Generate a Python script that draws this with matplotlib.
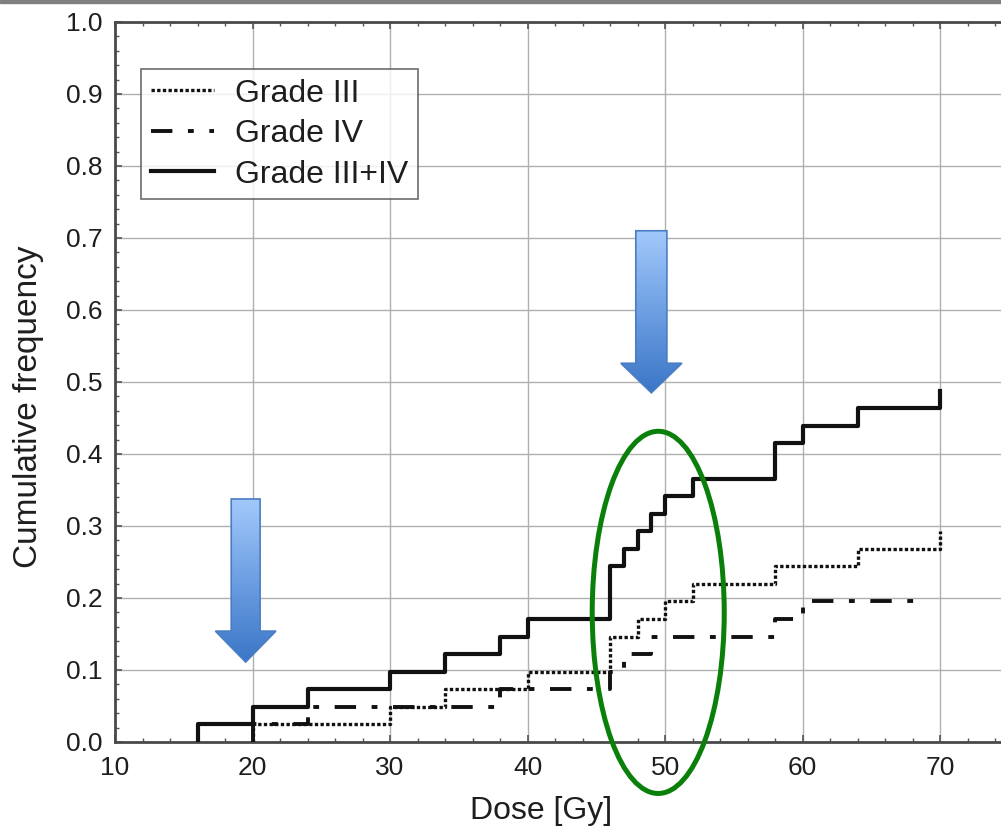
import numpy as np
import matplotlib
matplotlib.use('Agg')
import matplotlib.pyplot as plt
from matplotlib.patches import Polygon, Ellipse, Rectangle
from matplotlib.colors import LinearSegmentedColormap
from matplotlib.ticker import MultipleLocator

plt.rcParams['font.family'] = ['Liberation Sans', 'DejaVu Sans']

n_patients = 41

# step positions (Gy) and cumulative counts
all_dose = [16, 20, 24, 30, 34, 38, 40, 46, 47, 48, 49, 50, 52, 58, 60, 64, 70]
all_count = [1, 2, 3, 4, 5, 6, 7, 10, 11, 12, 13, 14, 15, 17, 18, 19, 20]

g3_dose = [20, 30, 34, 40, 46, 48, 50, 52, 58, 64, 70]
g3_count = [1, 2, 3, 4, 6, 7, 8, 9, 10, 11, 12]

g4_dose = [20, 24, 38, 46, 47, 49, 58, 60]
g4_count = [1, 2, 3, 4, 5, 6, 7, 8]
g4_end = 69


def step_xy(dose, count, end=None):
    x = [dose[0]] + list(dose)
    y = [0] + [c / n_patients for c in count]
    if end is not None:
        x.append(end)
        y.append(y[-1])
    return x, y


fig = plt.figure(figsize=(10.01, 8.32), dpi=100)
ax = fig.add_axes([0.1149, 0.1082, 0.893, 0.8654])

x, y = step_xy(g3_dose, g3_count)
ax.step(x, y, where='post', color='#111111', lw=2.4, dashes=(1.0, 0.7),
        label='Grade III', zorder=3)
x, y = step_xy(g4_dose, g4_count, g4_end)
ax.step(x, y, where='post', color='#111111', lw=2.8, dashes=(5.5, 4, 1.5, 4),
        label='Grade IV', zorder=3)
x, y = step_xy(all_dose, all_count)
ax.step(x, y, where='post', color='#111111', lw=3.0,
        label='Grade III+IV', zorder=4)

ax.set_xlim(10, 75)
ax.set_ylim(0, 1.0)
ax.xaxis.set_major_locator(MultipleLocator(10))
ax.xaxis.set_minor_locator(MultipleLocator(2))
ax.yaxis.set_minor_locator(MultipleLocator(0.02))
ax.set_yticks(np.round(np.arange(0, 1.01, 0.1), 1))
ax.set_yticklabels([f'{v:.1f}' for v in np.arange(0, 1.01, 0.1)])
ax.grid(True, which='major', color='#b0b0b0', lw=1.0)
ax.set_axisbelow(True)
ax.tick_params(which='both', direction='in', top=True, right=False,
               color='#555555', labelsize=19, labelcolor='#1e1e1e')
ax.tick_params(which='major', length=5, width=1.2)
ax.tick_params(which='minor', length=3, width=1.0)
ax.tick_params(axis='x', pad=10)
ax.tick_params(axis='y', pad=9)
for s in ['top', 'bottom', 'left']:
    ax.spines[s].set_linewidth(2.0)
    ax.spines[s].set_color('#4a4a4a')
ax.spines['right'].set_visible(False)

ax.set_xlabel('Dose [Gy]', fontsize=23, color='#1e1e1e')
ax.set_ylabel('Cumulative frequency', fontsize=24, color='#1e1e1e')
ax.xaxis.set_label_coords(0.4765, -0.075)
ax.yaxis.set_label_coords(-0.08, 0.465)

leg = ax.legend(loc='upper left', bbox_to_anchor=(141 / 1001, 1 - 69 / 832),
                bbox_transform=fig.transFigure, fontsize=23, frameon=True,
                fancybox=False, handlelength=2.0, handletextpad=0.65,
                borderpad=0.3, labelspacing=0.33, borderaxespad=0)
leg.get_frame().set_edgecolor('#555555')
leg.get_frame().set_linewidth(1.3)
for t in leg.get_texts():
    t.set_color('#1e1e1e')

# blue block arrows
cmap = LinearSegmentedColormap.from_list('arr', ['#a3c9fb', '#6d9fe2', '#3b76c6'])


def block_arrow(cx, top, base, tip, shaft_hw, head_hw):
    verts = [(cx - shaft_hw, top), (cx + shaft_hw, top), (cx + shaft_hw, base),
             (cx + head_hw, base), (cx, tip), (cx - head_hw, base),
             (cx - shaft_hw, base)]
    poly = Polygon(verts, closed=True, facecolor='none', edgecolor='#4a7ec4',
                   lw=1.2, zorder=7)
    ax.add_patch(poly)
    grad = np.linspace(0, 1, 256).reshape(-1, 1)
    im = ax.imshow(grad, cmap=cmap, extent=[cx - head_hw, cx + head_hw, tip, top],
                   origin='upper', aspect='auto', zorder=6)
    im.set_clip_path(poly)


block_arrow(19.5, 0.3375, 0.154, 0.111, 1.05, 2.2)
block_arrow(49.0, 0.71, 0.526, 0.485, 1.13, 2.22)

ax.add_patch(Ellipse((49.5, 0.18), 9.6, 0.503, facecolor='none',
                     edgecolor='#0a800a', lw=3.6, clip_on=False, zorder=8))

ax.set_xlim(10, 75)
ax.set_ylim(0, 1.0)

fig.patches.append(Rectangle((0, 1 - 2.5 / 832), 1, 2.5 / 832,
                             transform=fig.transFigure, color='#808080'))

fig.savefig('out.png', dpi=100)
plt.close(fig)
